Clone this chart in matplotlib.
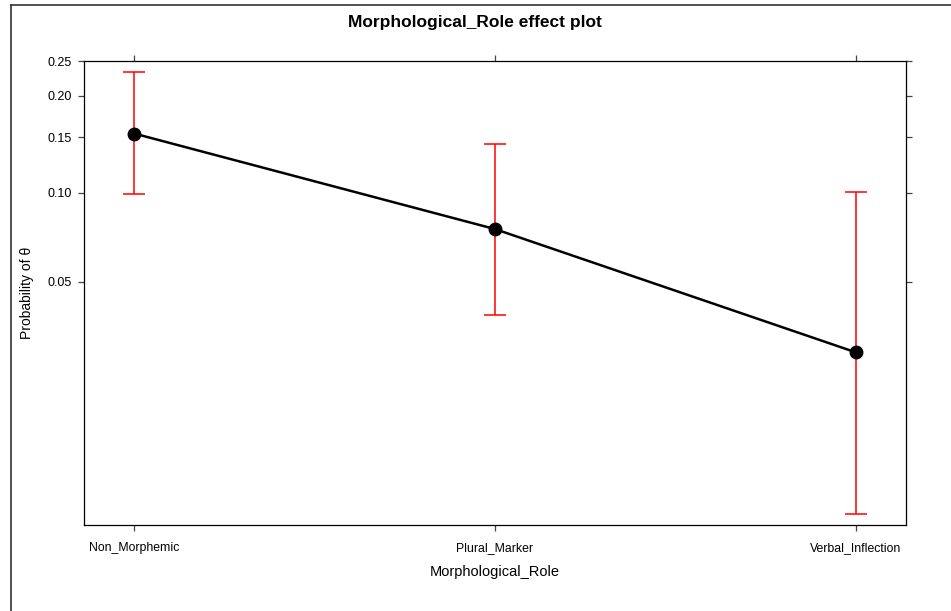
import matplotlib.pyplot as plt
from matplotlib.lines import Line2D
from matplotlib.ticker import FixedLocator, NullLocator
import numpy as np

plt.rcParams['font.family'] = ['Liberation Sans', 'DejaVu Sans']

roles = ['Non_Morphemic', 'Plural_Marker', 'Verbal_Inflection']
fit = [0.154, 0.0757, 0.0284]
lower = [0.0986, 0.0384, 0.00749]
upper = [0.234, 0.1434, 0.1006]
yticks = [0.05, 0.10, 0.15, 0.20, 0.25]

x = np.arange(1, len(roles) + 1)
fit = np.array(fit)
err = np.array([fit - np.array(lower), np.array(upper) - fit])

fig = plt.figure(figsize=(9.51, 6.11), dpi=100)
ax = fig.add_axes([84 / 951, 1 - 525 / 611, 822 / 951, 464 / 611])

ax.errorbar(x, fit, yerr=err, fmt='none', ecolor='red', elinewidth=1.1,
            capsize=8, capthick=1.1, zorder=2)
ax.plot(x, fit, color='black', lw=1.8, marker='o', markersize=9, zorder=3)

ax.set_yscale('logit')
ax.set_ylim(0.00684, 0.2505)
ax.set_xlim(0.86, 3.14)
ax.yaxis.set_major_locator(FixedLocator(yticks))
ax.yaxis.set_minor_locator(NullLocator())
ax.set_yticklabels(['%.2f' % v for v in yticks])
ax.set_xticks(x)
ax.set_xticklabels(roles)

ax.tick_params(axis='both', direction='out', length=4.5, width=0.9, color='#444444', pad=4)
ax.tick_params(axis='y', right=True, labelright=False, labelsize=9)
ax.tick_params(axis='x', top=True, labeltop=False, pad=8, labelsize=8.8)
for s in ax.spines.values():
    s.set_linewidth(0.9)

ax.set_xlabel('Morphological_Role', fontsize=10.5, labelpad=8)
ax.set_ylabel('Probability of θ', fontsize=10, labelpad=10)
fig.text(475 / 951, 1 - 22 / 611, 'Morphological_Role effect plot',
         ha='center', va='center', fontsize=12.5, fontweight='bold')

# page frame (left and top edges)
fig.add_artist(Line2D([11 / 951, 11 / 951], [0, 1 - 5 / 611], transform=fig.transFigure,
                      color='#222222', lw=1.1))
fig.add_artist(Line2D([11 / 951, 1], [1 - 5 / 611, 1 - 5 / 611], transform=fig.transFigure,
                      color='#222222', lw=1.1))

fig.savefig('out.png', dpi=100)
